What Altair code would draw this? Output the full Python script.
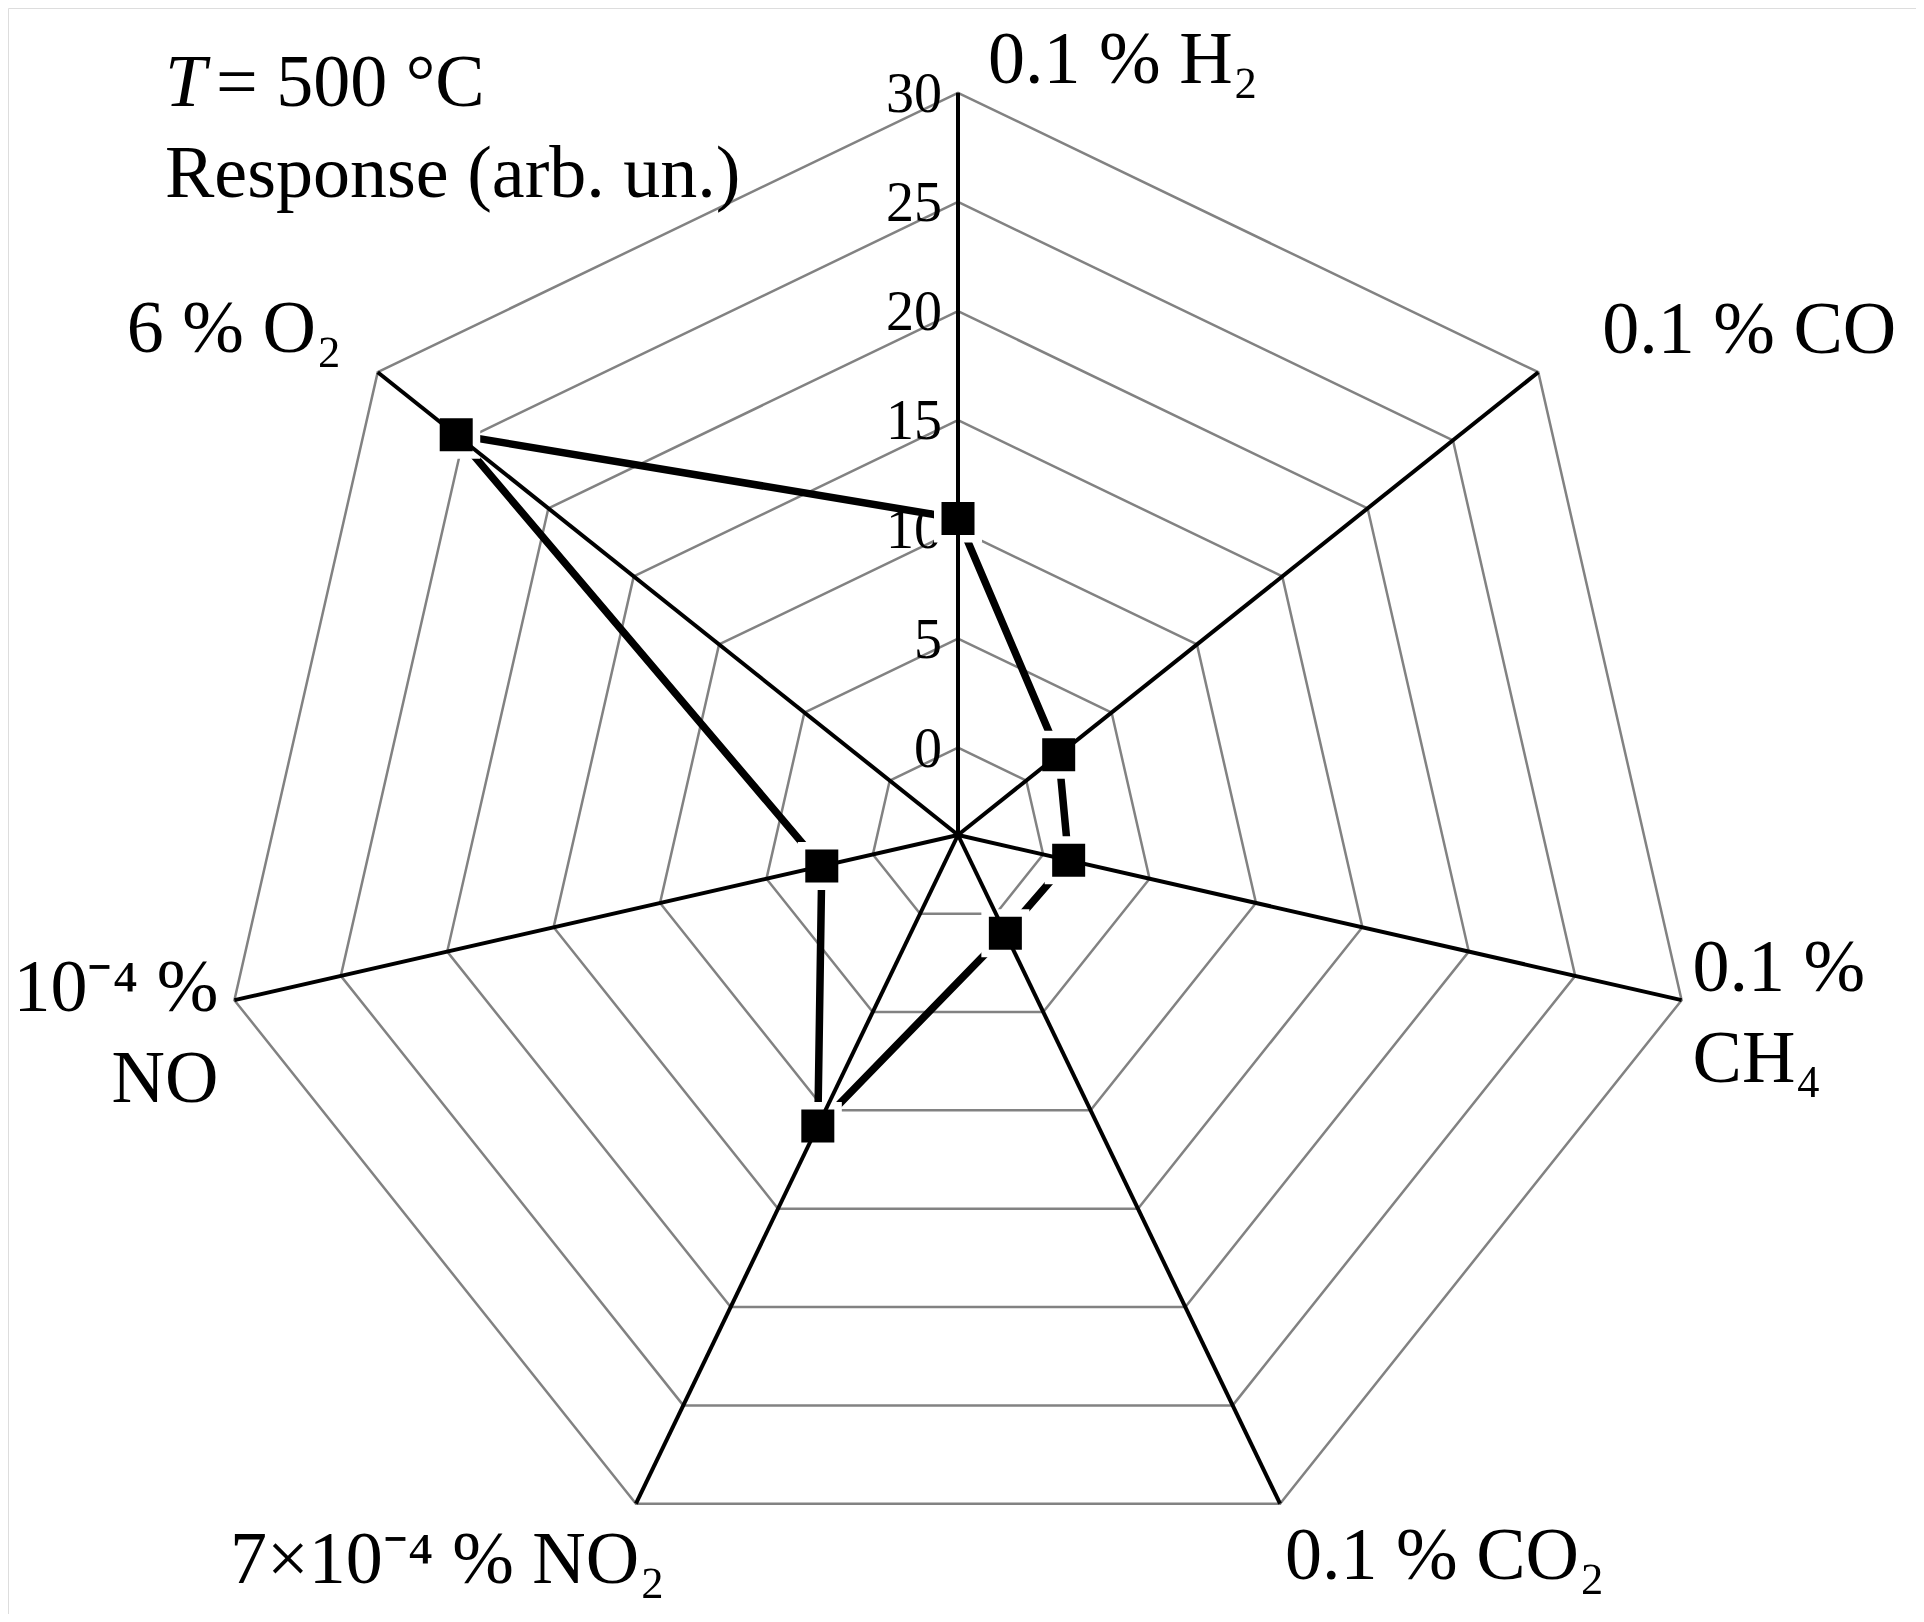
import altair as alt
import pandas as pd

# ---------------- data ----------------
categories = ["H2", "CO", "CH4", "CO2", "NO2", "NO", "O2"]
category_labels = ["0.1 % H₂", "0.1 % CO", "0.1 %\nCH₄", "0.1 % CO₂",
                   "7×10⁻⁴ % NO₂", "10⁻⁴ %\nNO", "6 % O₂"]
responses = [10.5, 1.9, 1.2, 1.0, 10.8, 2.4, 25.4]
ring_levels = [0, 5, 10, 15, 20, 25, 30]
tick_labels = ["0", "5", "10", "15", "20", "25", "30"]
title_line1_italic = "T"
title_line1_rest = "= 500 °C"
title_line2 = "Response (arb. un.)"

# ---------------- layout (not data) ----------------
R_MIN = -4          # value at the centre of the radar
N = len(categories)
W, H = 1908, 1606   # plot area (page minus 8px margin)
CX, CY = 950, 827   # centre of radar in plot pixels
K = 21.83           # pixels per value unit
FONT = "Liberation Serif"
LABEL_SIZE = 74
TICK_SIZE = 56

x_dom = [-CX / K, (W - CX) / K]
y_dom = [-(H - CY) / K, CY / K]

def X(field):
    return alt.X(field, type="quantitative", scale=alt.Scale(domain=x_dom, nice=False, zero=False), axis=None)

def Y(field):
    return alt.Y(field, type="quantitative", scale=alt.Scale(domain=y_dom, nice=False, zero=False), axis=None)

ANG = f"datum.idx * 2 * PI / {N}"
RAD = f"(datum.value - ({R_MIN}))"

# tables built from the lists
series_df = pd.DataFrame({"cat": categories, "idx": list(range(N)), "value": responses})
ring_df = pd.DataFrame([{"level": lv, "idx": i, "value": lv} for lv in ring_levels for i in range(N)])
spoke_df = pd.DataFrame({"idx": list(range(N)), "value": [ring_levels[-1]] * N})
tick_df = pd.DataFrame({"value": ring_levels, "label": tick_labels})
label_df = pd.DataFrame({"cat": categories, "idx": list(range(N)), "label": category_labels,
                         "value": [ring_levels[-1]] * N})

def polar(ch):
    return ch.transform_calculate(
        px=f"{RAD} * sin({ANG})", py=f"{RAD} * cos({ANG})")

rings = polar(alt.Chart(ring_df)).mark_line(
    interpolate="linear-closed", color="#828282", strokeWidth=2.5
).encode(x=X("px"), y=Y("py"), detail="level:N", order="idx:Q")

ticks = alt.Chart(tick_df).transform_calculate(
    px="0", py=f"{RAD}"
).mark_text(align="right", baseline="middle", dx=-16, dy=2, font=FONT,
            fontSize=TICK_SIZE, color="black").encode(
    x=X("px"), y=Y("py"), text="label:N")

series_line = polar(alt.Chart(series_df)).mark_line(
    interpolate="linear-closed", color="black", strokeWidth=7.5,
    strokeCap="round", strokeJoin="round"
).encode(x=X("px"), y=Y("py"), order="idx:Q")

halo = polar(alt.Chart(series_df)).mark_point(
    shape="square", filled=True, color="white", size=48 * 48, opacity=1, strokeWidth=0
).encode(x=X("px"), y=Y("py"))

markers = polar(alt.Chart(series_df)).mark_point(
    shape="square", filled=True, color="black", size=33 * 33, opacity=1, strokeWidth=0
).encode(x=X("px"), y=Y("py"))

spokes = polar(alt.Chart(spoke_df)).transform_calculate(
    cx="0", cy="0"
).mark_rule(color="black", strokeWidth=4).encode(
    x=X("cx"), y=Y("cy"), x2="px:Q", y2="py:Q")

# label placement: (dx, dy, align) relative to the outer vertex of each axis
label_pos = {
    "H2": (30, -10, "left"),
    "CO": (64, -19, "left"),
    "CH4": (11, -9, "left"),
    "CO2": (5, 75, "left"),
    "NO2": (29, 79, "right"),
    "NO": (-16, 11, "right"),
    "O2": (-36, -20, "right"),
}

label_layers = []
for cat in categories:
    dx, dy, al = label_pos[cat]
    label_layers.append(
        polar(alt.Chart(label_df)).transform_filter(alt.datum.cat == cat).mark_text(
            align=al, baseline="alphabetic", dx=dx, dy=dy, font=FONT,
            fontSize=LABEL_SIZE, color="black", lineBreak="\n", lineHeight=91
        ).encode(x=X("px"), y=Y("py"), text="label:N")
    )

t1 = alt.Chart(pd.DataFrame({"t": [title_line1_italic]})).mark_text(
    align="left", baseline="alphabetic", font=FONT, fontSize=LABEL_SIZE,
    fontStyle="italic", color="black"
).encode(x=alt.value(157), y=alt.value(98), text="t:N")
t2 = alt.Chart(pd.DataFrame({"t": [title_line1_rest]})).mark_text(
    align="left", baseline="alphabetic", font=FONT, fontSize=LABEL_SIZE, color="black"
).encode(x=alt.value(208), y=alt.value(98), text="t:N")
t3 = alt.Chart(pd.DataFrame({"t": [title_line2]})).mark_text(
    align="left", baseline="alphabetic", font=FONT, fontSize=LABEL_SIZE, color="black"
).encode(x=alt.value(157), y=alt.value(189), text="t:N")

chart = alt.layer(
    rings, ticks, series_line, halo, markers, spokes, *label_layers, t1, t2, t3
).properties(
    width=W, height=H, padding=0,
    autosize=alt.AutoSizeParams(type="none")
).configure_view(stroke=None).configure(background="white")

chart.save("out.html", embed_options={"renderer": "svg", "actions": False})
